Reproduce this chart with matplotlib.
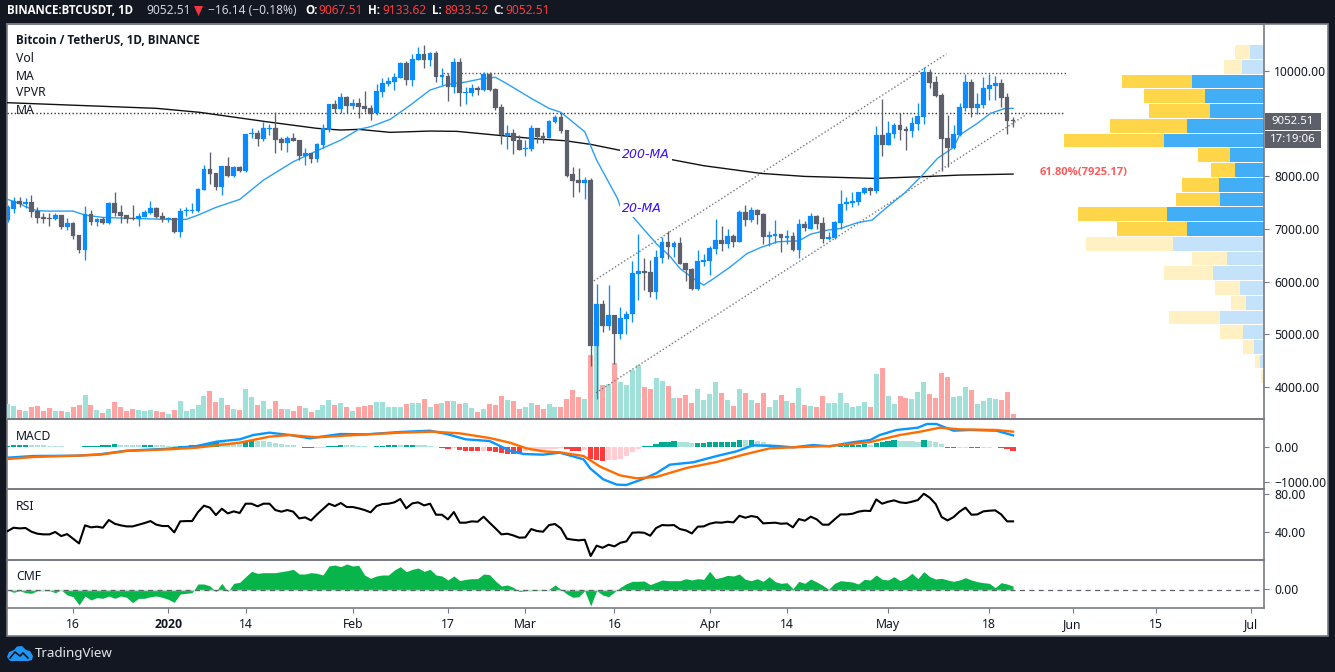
import numpy as np
import matplotlib
matplotlib.use("Agg")
import matplotlib.pyplot as plt
from matplotlib.patches import Rectangle, Polygon

# ---------- data (price in USDT, one candle per day; day 0 = 1 Jan 2020) ----------
first_day = -27
opens = [7169,7378,7530,7480,7511,7346,7226,7207,7182,7264,
 7036,7112,6884,6606,7277,7131,7188,7112,7492,7321,
 7258,7207,7188,7226,7302,7397,7245,7182,7207,6947,
 7334,7334,7340,7739,8138,8062,7796,8195,8005,8176,
 8100,8803,8816,8708,8905,8917,8702,8632,8727,8689,
 8385,8442,8334,8600,8879,9373,9284,9506,9335,9392,
 9335,9291,9196,9601,9753,9791,9867,10158,9829,10209,
 10323,10209,10342,9886,9905,9696,10171,9582,9582,9677,
 9639,9943,9658,9316,8765,8822,8689,8512,8518,8917,
 8765,8727,9031,9126,8879,8043,7929,7872,7929,4775,
 5573,5155,5364,5003,5288,5383,6143,6200,6181,5801,
 6447,6751,6656,6732,6352,6238,5858,6371,6390,6618,
 6789,6713,6865,6751,7321,7169,7359,7283,6846,6865,
 6903,6827,6865,6599,7093,6998,7245,7112,6808,6827,
 7112,7473,7492,7511,7682,7777,7720,8784,8594,8803,
 8974,8898,8860,8993,9126,9981,9791,9544,8727,8537,
 8784,9297,9791,9297,9354,9658,9715,9772,9506,9067.51]
highs = [7454,7612,7612,7581,7638,7422,7296,7296,7296,7264,
 7201,7138,6884,7435,7359,7201,7233,7518,7708,7454,
 7264,7454,7296,7359,7530,7410,7328,7233,7207,7391,
 7410,7486,7771,8214,8461,8062,8195,8360,8195,8195,
 8803,8911,8879,9037,8993,9215,8752,8765,8816,8689,
 8531,8442,8626,8993,9373,9449,9588,9525,9468,9481,
 9620,9354,9753,9867,9886,9956,10171,10190,10323,10462,
 10494,10361,10374,10057,9956,10241,10241,9696,9753,9715,
 9981,9981,9671,9373,8974,8898,8784,8689,8974,8917,
 8847,9069,9164,9196,8879,8176,8157,7986,7967,5953,
 5649,5934,5364,5516,5440,6390,6903,6447,6409,6599,
 6846,6960,6770,6846,6352,6257,6599,6523,6675,7188,
 7055,6998,6903,7359,7454,7416,7378,7302,6960,7169,
 6903,6979,6941,7188,7150,7302,7264,7226,6941,7150,
 7739,7606,7701,7701,7796,7796,8955,9468,9050,9012,
 9202,8955,9126,9392,10076,10038,9905,9582,9164,8974,
 9392,9943,9848,9582,9886,9943,9905,9848,9582,9133.62]
lows = [7138,7296,7422,7391,7233,7106,7106,7055,7169,6998,
 6979,6815,6536,6409,7074,7055,7093,7093,7245,7106,
 7106,7169,7055,7220,7283,7201,7138,7138,6916,6853,
 7245,7296,7328,7739,7853,7739,7644,7992,7992,8088,
 8088,8721,8581,8664,8784,8448,8499,8467,8670,8309,
 8214,8246,8277,8531,8847,9196,9196,9196,9272,9113,
 9227,9069,9164,9512,9715,9639,9861,9734,9715,10209,
 10063,10095,9791,9734,9430,9588,9335,9373,9525,9544,
 9620,9620,9259,8613,8512,8423,8499,8385,8486,8632,
 8632,8721,9006,8828,7986,7606,7701,7568,4395,3768,
 5041,5079,4433,4908,5003,5231,5649,5839,5706,5668,
 6358,6434,6472,6333,6010,5839,5839,6295,6124,6523,
 6580,6637,6662,6751,7055,7131,7093,6713,6675,6732,
 6561,6713,6580,6447,6960,6998,6998,6732,6789,6808,
 6998,7359,7416,7454,7663,7644,7682,8385,8594,8727,
 8689,8499,8746,8879,8993,9677,9506,8100,8176,8518,
 8765,9240,9126,9183,9297,9449,9449,9316,8803,8933.52]
closes = [7410,7530,7473,7505,7328,7207,7194,7194,7264,7030,
 7112,6865,6606,7277,7131,7188,7112,7492,7302,7245,
 7194,7188,7245,7328,7397,7226,7182,7201,6941,7340,
 7365,7359,7758,8138,8050,7796,8195,8005,8176,8100,
 8803,8822,8708,8917,8917,8689,8632,8727,8670,8385,
 8442,8334,8613,8911,9373,9284,9506,9335,9392,9316,
 9284,9183,9620,9772,9810,9886,10158,9829,10228,10323,
 10209,10342,9886,9924,9696,10171,9582,9601,9677,9639,
 9943,9639,9297,8778,8822,8670,8499,8537,8917,8746,
 8727,9050,9126,8860,8005,7910,7872,7929,4775,5573,
 5155,5364,5003,5307,5383,6162,6200,6162,5801,6466,
 6751,6656,6732,6333,6219,5858,6390,6409,6637,6789,
 6713,6865,6751,7321,7169,7359,7264,6846,6884,6903,
 6827,6865,6599,7093,7017,7245,7093,6808,6846,7131,
 7473,7511,7530,7701,7777,7720,8784,8594,8822,8974,
 8879,8860,9012,9145,9981,9772,9525,8708,8537,8803,
 9316,9791,9297,9373,9677,9734,9772,9487,9050,9052.51]
volumes = [31,27,19,17,25,27,17,23,17,17,
 15,25,29,49,29,19,13,21,35,25,
 17,21,19,17,19,17,15,11,19,37,
 17,21,29,47,57,35,43,29,21,19,
 61,45,29,37,21,37,21,21,17,27,
 23,15,19,29,39,29,33,25,17,25,
 27,29,35,35,25,25,25,31,33,33,
 41,25,31,33,37,37,31,33,23,15,
 21,31,29,47,39,37,21,
 24,32,28,20,30,24,24,40,58,44,
 40,128,158,68,70,112,74,68,98,108,
 64,60,82,76,66,42,42,48,32,60,
 38,50,74,52,38,26,60,52,38,32,
 52,24,38,48,36,32,62,28,26,24,
 46,32,32,52,32,24,26,34,24,90,
 102,46,30,46,42,40,54,74,50,42,
 92,84,44,46,64,58,30,36,42,40,
 38,54,10]
ma20_days = [-27,-25,-24,-22,-20,-16,-14,-11,-6,0,3,5,8,12,16,21,25,29,32,34,37.3,40.7,44,47,50,53,55,57,61,64,66,70,72,75.5,76,78,82,84.4,86,88.4,90,91.7,94.5,97.3,99.6,102.4,106,108,110.8,113,115.8,118.3,120.9,123.7,126.5,129.3,132,133,136,138.2,140.5,142]
ma20_vals = [7562,7486,7422,7346,7340,7340,7264,7220,7201,7182,7182,7264,7410,7562,7929,8277,8486,8689,8892,8942,9082,9354,9639,9747,9791,9861,9880,9753,9481,9291,9215,8847,8309,7581,7422,7245,6726,6472,6251,6048,5934,6061,6283,6536,6650,6757,6776,6903,6979,7011,7119,7169,7423,7676,7992,8341,8550,8784,9006,9196,9284,9291]
ma200_days = [-27,-2,5.3,16.5,25,29,32,37.3,44,48.5,55,61,66.7,71,76.3,85,90,99.6,106.9,118.6,126.5,133,142]
ma200_vals = [9398,9291,9215,9037,8911,8879,8892,8835,8860,8854,8784,8721,8676,8607,8486,8309,8202,8056,7999,7961,7992,8024,8043]
channel_upper_days = [71,130.8]
channel_upper_vals = [5978,10323]
channel_lower_days = [71.9,144.1]
channel_lower_vals = [3889,9164]
resistance_days = [46.2,150.9]
resistance_vals = [9956,9956]
support_days = [-27.1,150.7]
support_vals = [9208,9208]
vp_high = 10500
vp_low = 3782
vp_up = [43,67,217,178,163,232,301,103,88,136,133,292,232,274,112,154,73,55,133,64,31,13,4,4]
vp_down = [45,54,210,183,183,231,300,96,72,111,132,267,210,261,105,147,75,45,153,69,33,15,6,0]
vp_area_high = 9950
vp_area_low = 6880
macd_days = [-27,-22.7,-15.4,-11.5,-7,0,4.8,8.1,12,14.3,17,20.4,23.8,28.9,33.3,38.9,44,46.8,50,54,57.4,59.7,63,65.8,69.8,70.9,73.1,75.4,77,79.8,82,84.3,88.2,92.2,95.5,98.3,102.3,105,108.4,111.2,114.6,118,119.6,122.4,126,127.5,129.1,132,134.8,139.2,142]
macd_vals = [-305,-257,-248,-209,-105,-48,29,152,219,343,409,343,248,371,362,428,466,371,219,171,-105,-200,-219,-162,-352,-609,-923,-1076,-1085,-914,-752,-505,-438,-257,-124,48,29,-10,57,19,124,200,343,486,552,657,657,466,486,466,333]
signal_days = [-27,-22.7,-15.4,-11.5,-7,0,4.8,8.1,12,17,20.4,24.9,30.5,38.9,44.5,49,54,57.4,60.2,63,65.8,69.8,72.6,75.9,78.7,82,87.1,92.2,96.7,101.1,105,111.2,118,123,126.4,129.7,133,139.2,142]
signal_vals = [-343,-286,-248,-219,-114,-67,-19,48,124,295,343,276,333,409,438,390,257,124,-38,-124,-152,-257,-562,-809,-895,-857,-600,-428,-219,-38,-10,29,143,343,438,552,505,486,438]
hist_vals = [30,45,60,65,60,55,50,40,30,20,
 10,5,-10,20,25,30,45,65,80,70,
 60,55,50,55,65,60,50,40,30,35,
 40,50,70,100,120,140,130,120,115,110,
 170,180,170,165,150,120,100,70,50,-10,
 -25,-40,-30,-20,20,30,60,50,45,40,
 30,-10,25,35,50,65,55,60,70,60,
 50,40,-10,-30,-50,-40,-90,-100,-105,-110,
 -100,-110,-130,-170,-190,-195,-200,-110,-100,-90,
 -80,-70,-60,-40,-70,-100,-110,-90,-340,-380,
 -390,-385,-360,-340,-250,-150,-70,15,25,90,
 140,150,165,150,130,115,120,125,130,135,
 140,145,150,200,190,210,170,140,100,70,
 40,30,25,10,12,15,10,8,5,8,
 40,50,60,70,80,70,110,150,170,200,
 180,170,160,140,190,170,130,80,-15,-40,
 -20,-15,-30,-35,-20,-15,-10,-30,-60,-100]
rsi_vals = [41.0,44.5,43.8,44.2,40.3,38.2,37.5,37.5,40,35.7,
 37.8,32.9,28,47,44.9,45.6,44.5,52.6,48.7,47,
 45.9,45.9,47.7,49.4,51.5,47.7,46.3,46.3,39.6,51.2,
 51.5,51.5,61,67.7,65.6,57.8,64.5,59.6,61.7,60,
 69.8,69.8,67,69.8,69.8,63.1,61.4,63.1,61.4,54.3,
 55.4,52.2,58.5,64.2,69.8,67.3,70.5,66.3,66.3,64.9,
 63.1,60.7,67.3,69.4,69.8,71.2,74.7,64.9,70.1,71.2,
 68,69.8,58.2,58.2,53.3,61,49.8,49.8,51.2,50.8,
 56.1,49.8,43.8,37.5,38.2,36.4,34,34.3,43.1,41,
 40.3,47.3,48.4,43.8,32.9,31.9,31.2,31.9,14.7,25.6,
 23.4,26.6,24.9,28.7,30.1,39.2,39.6,39.2,36.1,44.2,
 47.3,47,47.3,43.1,41.7,38.5,45.6,45.9,48.7,50.1,
 49.8,50.8,50.1,57.1,55,56.8,55.7,49.1,49.4,49.8,
 48.7,49.1,44.9,53.6,51.9,56.1,53.3,47.7,47.7,53.3,
 58.5,58.5,59.2,61.4,62.4,62.1,74.3,69.8,71.9,73.3,
 71.2,70.5,71.9,73.6,80.3,76.1,69.4,55.7,52.2,55.7,
 61.4,65.6,58.2,58.5,61.7,62.4,62.8,58.5,51.2,51.2]
cmf_vals = [0,-0.028,-0.008,-0.032,-0.04,-0.008,-0.008,-0.008,-0.032,0,
 -0.06,-0.08,-0.18,-0.072,-0.12,-0.092,-0.10,-0.072,-0.10,-0.072,
 -0.088,-0.152,-0.10,-0.10,-0.08,-0.072,-0.088,-0.112,-0.148,-0.048,
 -0.04,-0.032,0.072,0.072,0.048,-0.02,0.08,-0.02,0.08,0.092,
 0.16,0.224,0.2,0.208,0.208,0.208,0.22,0.232,0.248,0.192,
 0.192,0.208,0.2,0.18,0.288,0.30,0.28,0.312,0.288,0.296,
 0.18,0.14,0.168,0.18,0.18,0.24,0.28,0.22,0.248,0.264,
 0.224,0.248,0.18,0.168,0.12,0.168,0.112,0.128,0.136,0.136,
 0.192,0.184,0.108,0.048,0.06,0.032,-0.02,-0.008,-0.008,0,
 0,0.008,0.06,0.008,-0.048,-0.088,-0.08,-0.008,-0.192,-0.008,
 -0.06,-0.08,-0.024,0.032,0.076,0.104,0.104,0.108,0.064,0.092,
 0.12,0.112,0.112,0.112,0.136,0.12,0.136,0.128,0.224,0.136,
 0.152,0.176,0.168,0.192,0.128,0.112,0.136,0.104,0.16,0.10,
 0.08,0.088,0.016,0.104,0.08,0.132,0.096,0.056,0.008,0.08,
 0.112,0.104,0.096,0.072,0.128,0.12,0.18,0.128,0.12,0.16,
 0.112,0.144,0.2,0.136,0.22,0.16,0.132,0.14,0.12,0.104,
 0.12,0.148,0.12,0.10,0.088,0.08,0.028,0.088,0.072,0.048]
time_ticks = [-16,0,13,31,47,60,75,91,104,121,138,152,166,182]
time_labels = ["16","2020","14","Feb","17","Mar","16","Apr","14","May","18","Jun","15","Jul"]
price_ticks = [10000,8000,7000,6000,5000,4000]
last_price = 9052.51

n = len(opens)
days = np.arange(first_day, first_day + n)
for arr in (highs, lows, closes, volumes, hist_vals, rsi_vals, cmf_vals):
    assert len(arr) == n, len(arr)

# ---------- layout in pixels ----------
W, H = 1335, 672
DARK = "#131722"; GRID = "#787b86"; TXT = "#131722"
UP = "#0a8cff"; DOWN = "#5d606b"
FONT = "Noto Sans"
BOLD = "Open Sans"
plt.rcParams["font.family"] = [FONT, "DejaVu Sans"]
fig = plt.figure(figsize=(W/100, H/100), dpi=100, facecolor=DARK)

def rect(x0, y0, x1, y1):
    return [x0/W, 1-y1/H, (x1-x0)/W, (y1-y0)/H]

X0, X1 = 7, 1264
PXD = 5.949
xlim = ((X0-168.3)/PXD, (X1-168.3)/PXD)

bg = fig.add_axes([0,0,1,1], zorder=0)
bg.set_xlim(0,W); bg.set_ylim(H,0); bg.axis("off")
bg.add_patch(Rectangle((7,24),1321,612,fc="white",ec=GRID,lw=1.2))

def pane(y0, y1, ylim, z=3):
    ax = fig.add_axes(rect(X0,y0,X1,y1), zorder=z)
    ax.set_xlim(*xlim); ax.set_ylim(*ylim)
    ax.patch.set_alpha(0)
    ax.set_xticks([])
    ax.yaxis.tick_right()
    ax.tick_params(axis="y", length=3.5, width=0.8, color=GRID, labelsize=8.8, labelcolor=TXT, pad=4)
    for s in ("left",):
        ax.spines[s].set_visible(False)
    for s in ("top","bottom","right"):
        ax.spines[s].set_color(GRID); ax.spines[s].set_linewidth(1.2)
    return ax

SC = 18.987
main_ylim = (10000-(419-71)*SC, 10000+(71-24)*SC)
vol_ax = fig.add_axes(rect(X0,24,X1,419), zorder=1)
vol_ax.set_xlim(*xlim); vol_ax.set_ylim(0,790); vol_ax.axis("off")
vp_ax = fig.add_axes(rect(X0,24,X1,419), zorder=2)
vp_ax.set_xlim((X1-X0)*3,0); vp_ax.set_ylim(*main_ylim); vp_ax.axis("off")
ax = pane(24,419,main_ylim,z=4)

opens_a, closes_a = np.array(opens,float), np.array(closes,float)
is_up = closes_a >= opens_a

# volume
vol_ax.bar(days, volumes, width=0.84, linewidth=0,
           color=["#9fe0d8" if u else "#ffa3a3" for u in is_up])

# VPVR
edges = np.linspace(vp_high, vp_low, len(vp_up)+1)
step = edges[0]-edges[1]
for i,(u,d) in enumerate(zip(vp_up,vp_down)):
    c = (edges[i]+edges[i+1])/2
    strong = vp_area_low < c < vp_area_high
    vp_ax.barh(c,u,height=step*0.93,color="#42aef5" if strong else "#c4e3fa",linewidth=0)
    vp_ax.barh(c,d,left=u,height=step*0.93,color="#ffd54a" if strong else "#fff1c4",linewidth=0)

# level and channel lines
for xs,ys,col in ((channel_upper_days,channel_upper_vals,"#777777"),(channel_lower_days,channel_lower_vals,"#777777"),
                  (resistance_days,resistance_vals,"#555555"),(support_days,support_vals,"#333333")):
    ax.plot(xs,ys,color=col,lw=1.0,ls=(0,(1,1.6)),zorder=2)

# moving averages
ax.plot(ma200_days,ma200_vals,color="#111111",lw=1.0,zorder=3)
ax.plot(ma20_days,ma20_vals,color="#2aa0f5",lw=1.0,zorder=3)

# candles
cols = [UP if u else DOWN for u in is_up]
ax.vlines(days,lows,highs,colors=cols,lw=0.95,zorder=4)
ax.bar(days,np.abs(closes_a-opens_a),bottom=np.minimum(opens_a,closes_a),width=0.8,
       color=cols,edgecolor=cols,linewidth=0.15,zorder=5)

ax.set_yticks(price_ticks)
ax.set_yticklabels([f"{p:.2f}" for p in price_ticks])
ax.set_yticks([last_price],minor=True)
ax.tick_params(axis="y",which="minor",length=3.5,width=0.8,color="white",zorder=20)

# MACD
m_ax = pane(419,489,(-(489-447)/35*1000,(447-419)/35*1000))
hist = np.array(hist_vals,float)
prev = np.r_[hist[0]-1,hist[:-1]]
hcols = []
for h,p in zip(hist,prev):
    if h>=0: hcols.append("#00a896" if h>=p else "#aee3dc")
    else:    hcols.append("#ff3b3b" if h<p else "#ffcdd2")
m_ax.bar(days,hist,width=0.9,color=hcols,linewidth=0,zorder=1)
m_ax.plot(macd_days,macd_vals,color="#0a96ff",lw=1.7,zorder=2)
m_ax.plot(signal_days,signal_vals,color="#ff6d00",lw=1.7,zorder=3)
m_ax.set_yticks([0,-1000]); m_ax.set_yticklabels(["0.00","\u22121000.00"])

# RSI
r_ax = pane(489,560,(80-(560-494)/0.95,80+(494-489)/0.95))
r_ax.plot(days,rsi_vals,color="#000000",lw=1.5)
r_ax.set_yticks([80,40]); r_ax.set_yticklabels(["80.00","40.00"])

# CMF
c_ax = pane(560,608,(-(608-590)/83.33,(590-560)/83.33))
cmf = np.array(cmf_vals)
c_ax.fill_between(days,cmf,0,color="#07b54a",linewidth=0,zorder=1)
c_ax.plot(days,np.zeros(n),color="#a8e6bd",lw=1.0,zorder=2)
c_ax.axhline(0.006,color="#5d606b",lw=0.9,ls=(0,(4,3.5)),zorder=3)
c_ax.set_yticks([0.008]); c_ax.set_yticklabels(["0.00"])
c_ax.set_xticks(time_ticks)
c_ax.set_xticklabels(time_labels)
c_ax.tick_params(axis="x",length=3.5,width=0.8,color=GRID,labelsize=8.8,labelcolor=TXT,pad=4)
for lab,t in zip(c_ax.get_xticklabels(),time_labels):
    if t=="2020":
        lab.set_fontweight("bold"); lab.set_family(BOLD)

# ---------- overlay texts ----------
ov = fig.add_axes([0,0,1,1], zorder=10)
ov.set_xlim(0,W); ov.set_ylim(H,0); ov.axis("off")
def T(x,y,s,**k):
    k.setdefault("va","center"); k.setdefault("ha","left"); k.setdefault("fontsize",8.6); k.setdefault("color",TXT)
    ov.text(x,y,s,**k)

T(16,41,"Bitcoin / TetherUS, 1D, BINANCE",fontweight="bold",family=BOLD,fontsize=8.4)
for y,s in ((59,"Vol"),(76,"MA"),(93,"VPVR"),(110,"MA"),(437,"MACD"),(507,"RSI"),(577,"CMF")):
    T(16,y,s,fontsize=8.8)

WHITE="#d1d4dc"; RED="#ff3b3b"
T(7,11,"BINANCE:BTCUSDT, 1D",color="white",fontweight="bold",family=BOLD,fontsize=8.3)
T(146,11,"9052.51",color=WHITE,fontsize=8.6)
ov.add_patch(Polygon([(194,6),(203,6),(198.5,16)],fc="#f23645",ec="none"))
T(208,11,"\u221216.14 (\u22120.18%)",color=WHITE,fontsize=8.6)
for x,s in ((305,"O:"),(368,"H:"),(432,"L:"),(493,"C:")):
    T(x,11,s,color="white",fontweight="bold",family=BOLD,fontsize=8.3)
for x,s in ((318,"9067.51"),(382,"9133.62"),(444,"8933.52"),(505,"9052.51")):
    T(x,11,s,color=RED,fontsize=8.6)

box = dict(facecolor="white",edgecolor="none",pad=1.5)
T(622,155,"200-MA",color="#3a0cff",style="italic",fontsize=9.0,family="DejaVu Sans",bbox=box)
T(622,208,"20-MA",color="#3a0cff",style="italic",fontsize=9.0,family="DejaVu Sans",bbox=box)
T(1040,173,"61.80%(7925.17)",color="#ff5a5a",fontsize=8.0,fontweight="bold",family=BOLD)

ov.add_patch(Rectangle((1265,113),56,17,fc=DOWN,ec="none"))
ov.add_patch(Rectangle((1265,131),56,17,fc=DOWN,ec="none"))
T(1293,121.5,f"{last_price:.2f}",color="white",ha="center",fontsize=8.2)
T(1293,139.5,"17:19:06",color="white",ha="center",fontsize=8.2)

# logo
ov.add_patch(Polygon([(7,657),(9,652),(14,650),(17,646.5),(22,646),(26,650),(30,651),(33,656),(32,660),(28,661),(10,661)],
                     fc="#1f96f3",ec="none"))
ov.plot([10,15,20,23,28],[658,652,656,653,658],color=DARK,lw=1.2)
T(35,654,"TradingView",color="#e4e6eb",fontsize=9.6)

fig.savefig("out.png",dpi=100,facecolor=DARK)
